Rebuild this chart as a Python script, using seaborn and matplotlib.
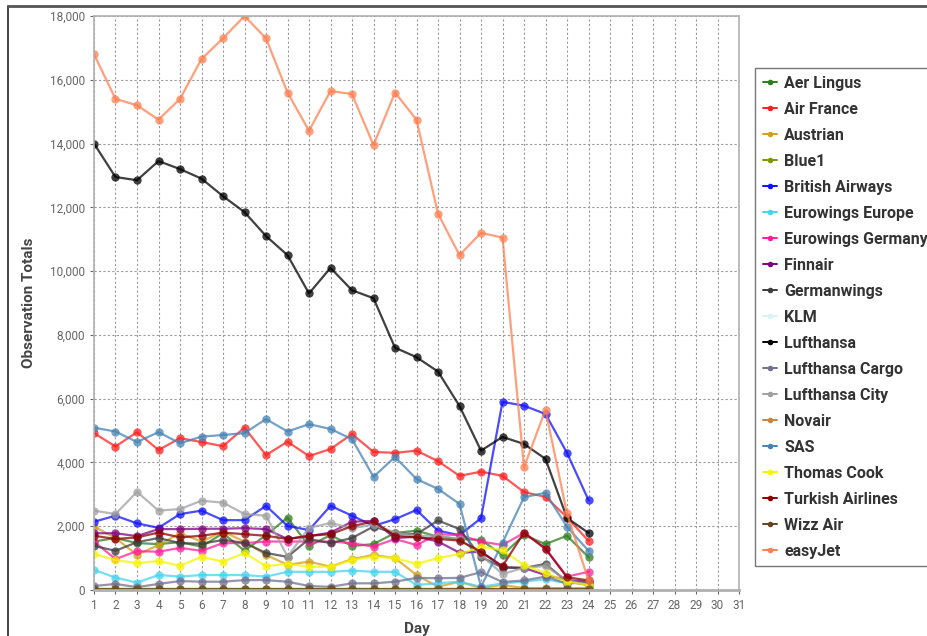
import matplotlib
matplotlib.use("Agg")
import matplotlib.pyplot as plt
import seaborn as sns
import pandas as pd
from matplotlib.lines import Line2D
from matplotlib.ticker import FuncFormatter, MultipleLocator

days = list(range(1, 25))

aer_lingus = [1520,1630,1470,1440,1500,1360,1780,1230,1720,2270,1380,1720,1380,1440,1790,1860,1670,1600,1570,1100,1720,1440,1700,1030]
air_france = [4920,4500,4950,4390,4760,4640,4510,5090,4230,4650,4200,4420,4890,4330,4300,4370,4040,3580,3710,3580,3070,2920,2280,1540]
austrian = [1990,1630,1100,1410,1780,1520,1830,1520,1100,790,890,730,970,1100,1000,470,100,260,60,160,60,60,60,60]
blue1 = [30,30,30,30,30,30,30,30,30,30,30,30,30,30,30,30,30,30,30,30,30,30,30,30]
british_airways = [2140,2330,2090,1950,2380,2490,2190,2190,2640,2010,1880,2640,2330,2010,2220,2510,1860,1720,2250,5900,5780,5520,4300,2820]
eurowings_europe = [630,390,230,470,420,470,470,470,420,570,570,570,610,570,570,160,210,260,100,210,260,340,210,260]
eurowings_germany = [1520,970,1220,1200,1320,1230,1470,1470,1520,1520,1520,1520,1470,1360,1600,1410,1750,1720,1520,1410,1790,1290,420,570]
finnair = [1780,1780,1690,1910,1910,1920,1920,1940,1910,1600,1690,1800,2140,2170,1630,1670,1520,1170,1200,720,690,470,310,260]
germanwings = [1380,1230,1500,1630,1470,1450,1570,1480,1160,1040,1600,1470,1630,1990,1780,1750,2180,1910,1040,700,690,820,260,160]
klm = [0,0,0,0,0,0,0,0,0,0,0,0,0,0,0,0,0,0,0,0,0,0,0,0]
lufthansa = [14000,12950,12850,13450,13200,12900,12350,11850,11100,10500,9300,10100,9400,9150,7600,7300,6850,5770,4370,4800,4580,4110,2260,1790]
lufthansa_cargo = [125,190,90,190,280,260,260,310,310,260,125,100,210,210,260,380,370,380,560,250,300,420,200,250]
lufthansa_city = [2490,2380,3080,2490,2540,2800,2740,2380,2330,1050,1950,2100,1940,2050,1800,1700,1700,1600,1100,500,700,750,300,150]
novair = [15,15,15,15,15,15,15,15,15,15,15,15,15,15,15,15,15,15,15,15,15,15,15,15]
sas = [5090,4970,4640,4950,4600,4810,4860,4920,5360,4970,5200,5050,4730,3550,4170,3480,3170,2700,100,1480,2910,3050,1980,1230]
thomas_cook = [1130,940,840,910,760,1040,890,1160,750,820,730,730,940,1050,1000,820,1000,1130,1360,1250,780,530,260,160]
turkish_airlines = [1700,1600,1650,1800,1650,1700,1800,1750,1700,1600,1700,1750,2000,2150,1700,1650,1600,1550,1200,750,1800,1300,400,300]
wizz_air = [40,40,40,40,40,40,40,40,40,40,40,40,40,40,40,40,40,40,40,40,40,40,40,40]
easyjet = [16800,15400,15200,14750,15400,16650,17300,18000,17300,15600,14400,15650,15550,13950,15600,14750,11800,10500,11200,11050,3850,5650,2400,300]

airlines = ["Aer Lingus", "Air France", "Austrian", "Blue1", "British Airways",
            "Eurowings Europe", "Eurowings Germany", "Finnair", "Germanwings", "KLM",
            "Lufthansa", "Lufthansa Cargo", "Lufthansa City", "Novair", "SAS",
            "Thomas Cook", "Turkish Airlines", "Wizz Air", "easyJet"]
series = [aer_lingus, air_france, austrian, blue1, british_airways,
          eurowings_europe, eurowings_germany, finnair, germanwings, klm,
          lufthansa, lufthansa_cargo, lufthansa_city, novair, sas,
          thomas_cook, turkish_airlines, wizz_air, easyjet]
colors = ["#2e7d1e", "#ff2020", "#d4a017", "#7a9a01", "#1010ff",
          "#45d4f0", "#ff1f9a", "#800080", "#3c3c3c", "#d8f4f4",
          "#000000", "#707090", "#a0a0a0", "#c8843c", "#4682b4",
          "#f5f500", "#8b0000", "#654321", "#ff7f50"]
palette = dict(zip(airlines, colors))

df = pd.DataFrame({
    "Day": days * len(airlines),
    "Airline": [a for a in airlines for _ in days],
    "Observation Totals": [v for s in series for v in s],
})

sns.set_theme(style="white")
plt.rcParams["font.family"] = ["Roboto", "DejaVu Sans"]

fig = plt.figure(figsize=(9.28, 6.36), dpi=100)
ax = fig.add_axes([94/928, 1-590/636, (739-94)/928, (590-16)/636])

sns.lineplot(data=df, x="Day", y="Observation Totals", hue="Airline",
             hue_order=airlines, palette=palette, marker="o", markersize=6,
             markeredgewidth=0, linewidth=1.6, alpha=0.75, legend=False, ax=ax)

ax.set_xlim(1, 31)
ax.set_ylim(0, 18000)
ax.xaxis.set_major_locator(MultipleLocator(1))
ax.yaxis.set_major_locator(MultipleLocator(2000))
ax.yaxis.set_major_formatter(FuncFormatter(lambda v, p: f"{int(v):,}"))
ax.grid(True, color="#9a9a9a", linestyle=(0, (2, 2)), linewidth=0.8)
ax.tick_params(axis="both", labelsize=8.5, colors="#666666", length=3, width=0.8)
ax.tick_params(axis="both", which="both", bottom=True, left=True)
for s in ax.spines.values():
    s.set_color("#b0b0b0")
    s.set_linewidth(1.2)
ax.spines["bottom"].set_linewidth(2)

ax.set_xlabel("Day", fontsize=11, fontweight="bold", color="#444444", labelpad=7)
ax.set_ylabel("Observation Totals", fontsize=11, fontweight="bold", color="#444444", labelpad=10)

handles = [Line2D([0], [0], color=palette[a], marker="o", markersize=4,
                  markeredgewidth=0, linewidth=1.4) for a in airlines]
leg = fig.legend(handles, airlines, loc="upper left",
                 bbox_to_anchor=(755/928, 1-68/636), frameon=True,
                 handlelength=0.9, handletextpad=0.45,
                 labelspacing=0.69, borderpad=0.47, borderaxespad=0.0,
                 fancybox=False, prop={"weight": "bold", "size": 11.5})
leg.get_frame().set_edgecolor("#555555")
leg.get_frame().set_linewidth(1.0)
for t in leg.get_texts():
    t.set_color("#333333")

# outer frame lines (left and top) of the screenshot
fig.add_artist(Line2D([8/928, 8/928], [0, 1-6/636], transform=fig.transFigure,
                      color="#222222", linewidth=1.2))
fig.add_artist(Line2D([8/928, 1], [1-6/636, 1-6/636], transform=fig.transFigure,
                      color="#555555", linewidth=2))

fig.savefig("out.png", dpi=100)
